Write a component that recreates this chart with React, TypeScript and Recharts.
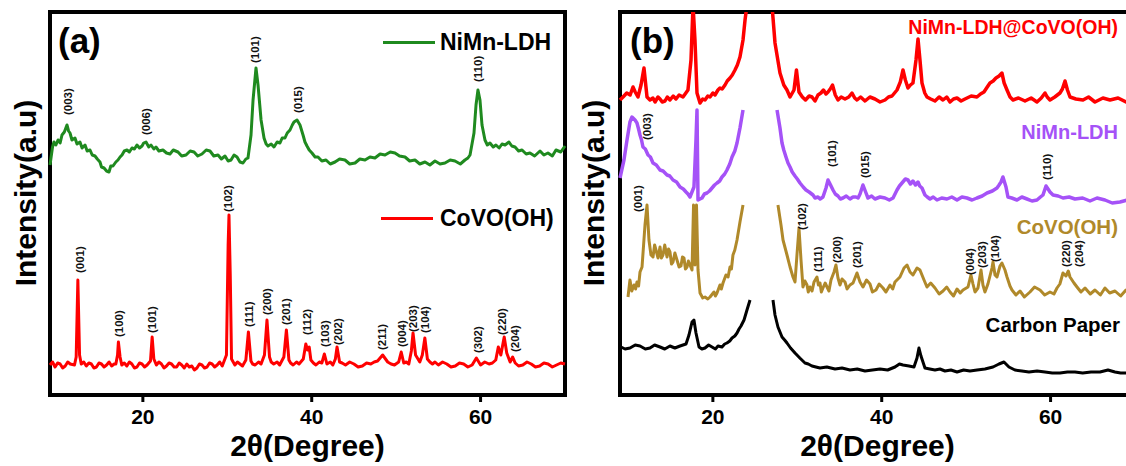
import { ComposedChart, Line, Scatter, XAxis, YAxis, ReferenceArea } from 'recharts';

const FONT = '"Liberation Sans", Arial, Helvetica, sans-serif';

const GREEN = '#1f8a1f';
const RED = '#ff0000';
const PURPLE = '#a552f7';
const GOLD = '#b0892a';
const BLACK = '#000000';

type Pt = [number, number | null];
type Hkl = [string, number, number];

// panel (a) — intensities in a.u.
const nimnA: Pt[] = [
  [9.0, 230], [9.3, 248], [9.47, 253], [9.7, 250], [9.95, 255], [10.2, 252], [10.42, 260], [10.7, 263],
  [11.01, 270], [11.2, 264], [11.37, 262], [11.6, 255], [11.96, 257], [12.2, 251], [12.55, 253],
  [12.8, 247], [13.15, 250], [13.4, 244], [13.74, 245], [14.0, 240], [14.33, 239], [14.6, 236],
  [14.92, 233], [15.1, 228], [15.4, 227], [15.7, 224], [15.99, 223], [16.2, 229], [16.46, 229],
  [16.8, 233], [17.05, 235], [17.3, 238], [17.53, 240], [17.8, 244], [18.12, 245], [18.4, 243],
  [18.71, 247], [19.0, 246], [19.3, 250], [19.6, 247], [19.9, 249], [20.1, 252], [20.37, 253],
  [20.7, 248], [20.96, 250], [21.3, 246], [21.55, 248], [21.9, 244], [22.38, 245], [22.8, 242],
  [23.21, 241], [23.6, 245], [24.16, 243], [24.6, 239], [25.11, 240], [25.6, 244], [26.06, 243],
  [26.5, 239], [27.0, 241], [27.5, 245], [27.95, 244], [28.4, 239], [28.9, 240], [29.3, 236],
  [29.73, 239], [30.1, 234], [30.44, 235], [30.8, 240], [31.15, 238], [31.5, 233], [31.86, 232],
  [32.2, 236], [32.45, 237], [32.81, 260], [33.05, 295], [33.4, 327], [33.64, 310], [34.0, 275],
  [34.35, 257], [34.6, 251], [34.82, 249], [35.2, 251], [35.53, 248], [35.9, 253], [36.24, 252],
  [36.5, 257], [36.83, 257], [37.1, 262], [37.43, 265], [37.7, 270], [37.9, 273], [38.26, 275],
  [38.61, 270], [38.97, 260], [39.2, 253], [39.44, 249], [39.7, 245], [40.03, 242], [40.4, 238],
  [40.74, 238], [41.2, 234], [41.69, 235], [42.2, 231], [42.76, 233], [43.3, 236], [43.94, 235],
  [44.5, 231], [45.13, 232], [45.7, 236], [46.31, 235], [46.9, 238], [47.49, 237], [48.1, 241],
  [48.68, 240], [49.3, 243], [49.86, 242], [50.4, 239], [51.05, 238], [51.6, 234], [52.23, 235],
  [52.8, 231], [53.42, 233], [54.0, 230], [54.6, 234], [55.2, 231], [55.78, 232], [56.4, 235],
  [56.97, 234], [57.6, 231], [58.15, 235], [58.5, 237], [58.75, 240], [59.22, 262], [59.46, 290],
  [59.69, 305], [59.93, 295], [60.17, 270], [60.52, 255], [60.8, 250], [61.11, 252], [61.5, 248],
  [61.82, 250], [62.2, 247], [62.54, 251], [62.9, 250], [63.36, 253], [63.7, 249], [64.08, 248],
  [64.5, 244], [64.91, 245], [65.4, 241], [65.85, 242], [66.4, 239], [67.04, 244], [67.5, 240],
  [67.98, 242], [68.5, 239], [68.93, 245], [69.5, 243], [70.0, 249],
];

const covoA: Pt[] = [
  [9.0, 30], [9.3, 33], [9.6, 28], [9.9, 32], [10.2, 31], [10.5, 27], [10.8, 29], [11.1, 33], [11.4, 31],
  [11.9, 30], [12.1, 38], [12.3, 115], [12.5, 40], [12.7, 31], [13.0, 33], [13.3, 29], [13.6, 32],
  [13.9, 31], [14.2, 27], [14.5, 28], [14.8, 32], [15.1, 31], [15.4, 28], [15.7, 30], [16.0, 33],
  [16.3, 29], [16.6, 31], [16.8, 31], [17.0, 40], [17.1, 53], [17.3, 38], [17.5, 30], [17.8, 32],
  [18.1, 29], [18.4, 33], [18.7, 31], [19.0, 27], [19.3, 28], [19.6, 32], [19.9, 31], [20.2, 28],
  [20.5, 30], [20.9, 34], [21.1, 58], [21.3, 36], [21.6, 30], [21.9, 33], [22.2, 31], [22.5, 27],
  [22.8, 29], [23.1, 32], [23.4, 31], [23.7, 28], [24.0, 28], [24.3, 32], [24.6, 30], [24.9, 27],
  [25.2, 31], [25.5, 28], [25.8, 29], [26.1, 25], [26.4, 27], [26.7, 31], [27.0, 30], [27.3, 27],
  [27.6, 28], [27.9, 32], [28.2, 31], [28.5, 28], [28.8, 30], [29.1, 33], [29.4, 29], [29.9, 40],
  [30.1, 150], [30.2, 180], [30.35, 120], [30.5, 36], [30.9, 30], [31.2, 33], [31.5, 31], [31.8, 29],
  [32.2, 35], [32.5, 63], [32.8, 34], [33.0, 31], [33.3, 30], [33.7, 33], [34.0, 31], [34.4, 40],
  [34.7, 75], [35.0, 38], [35.2, 33], [35.5, 31], [35.9, 33], [36.2, 30], [36.7, 38], [37.0, 65],
  [37.3, 35], [37.5, 32], [37.8, 30], [38.2, 33], [38.5, 31], [39.0, 36], [39.3, 51], [39.5, 45],
  [39.7, 48], [39.9, 35], [40.2, 32], [40.5, 30], [40.9, 33], [41.2, 32], [41.5, 41], [41.8, 31],
  [42.2, 33], [42.5, 30], [42.8, 36], [43.0, 48], [43.3, 33], [43.6, 32], [44.0, 30], [44.5, 33],
  [45.0, 31], [45.5, 28], [46.0, 29], [46.5, 32], [47.0, 31], [47.4, 33], [47.8, 34], [48.4, 40],
  [49.0, 33], [49.4, 31], [49.8, 30], [50.3, 33], [50.6, 43], [50.9, 32], [51.2, 33], [51.5, 31],
  [51.8, 44], [52.0, 62], [52.3, 40], [52.8, 33], [53.1, 40], [53.4, 57], [53.7, 36], [54.0, 33],
  [54.3, 31], [54.6, 33], [55.0, 30], [55.5, 33], [56.0, 31], [56.5, 28], [57.0, 29], [57.5, 32],
  [58.0, 31], [58.5, 28], [59.0, 30], [59.5, 37], [60.0, 30], [60.5, 33], [61.0, 31], [61.4, 32],
  [61.8, 35], [62.1, 48], [62.4, 40], [62.8, 58], [63.1, 42], [63.5, 33], [63.8, 38], [64.1, 32],
  [64.5, 29], [65.0, 30], [65.5, 33], [66.0, 31], [66.5, 28], [67.0, 29], [67.5, 32], [68.0, 31],
  [68.5, 28], [69.0, 30], [69.5, 32], [70.0, 31],
];

const nimnPeaksA: Hkl[] = [
  ['(003)', 11.19, 280], ['(006)', 20.37, 260], ['(101)', 33.34, 332], ['(015)', 38.37, 282], ['(110)', 59.69, 313],
];

const covoPeaksA: Hkl[] = [
  ['(001)', 12.55, 122], ['(100)', 17.17, 58], ['(101)', 21.08, 62], ['(102)', 30.08, 183],
  ['(111)', 32.57, 68], ['(200)', 34.7, 80], ['(201)', 36.95, 70], ['(112)', 39.44, 60],
  ['(103)', 41.57, 48], ['(202)', 43.11, 50], ['(211)', 48.32, 45], ['(004)', 50.69, 48],
  ['(203)', 51.99, 63], ['(104)', 53.42, 62], ['(302)', 59.69, 42], ['(220)', 62.54, 60], ['(204)', 64.08, 43],
];

// panel (b)
const compositeB: Pt[] = [
  [9.0, 295], [9.36, 298], [9.8, 302], [10.2, 300], [10.54, 308], [10.8, 303], [11.13, 298], [11.49, 310],
  [11.84, 327], [12.2, 298], [12.55, 295], [12.9, 297], [13.15, 293], [13.5, 298], [13.74, 296],
  [14.0, 293], [14.33, 294], [14.6, 298], [14.92, 295], [15.3, 299], [15.63, 296], [16.0, 300],
  [16.46, 298], [16.8, 302], [17.05, 305], [17.41, 335], [17.65, 390], [17.88, 355], [18.12, 302],
  [18.48, 292], [18.8, 296], [19.07, 295], [19.4, 299], [19.66, 298], [20.0, 302], [20.25, 300],
  [20.6, 305], [20.84, 307], [21.1, 306], [21.44, 310], [21.7, 314], [22.03, 317], [22.3, 320],
  [22.62, 325], [22.9, 330], [23.21, 338], [23.57, 355], [23.81, 375], [24.04, 390], [25.5, 500],
  [27.0, 390], [27.36, 352], [27.95, 322], [28.4, 310], [28.78, 305], [29.14, 298], [29.61, 305],
  [29.9, 325], [30.2, 303], [30.6, 298], [30.97, 295], [31.4, 299], [31.74, 298], [32.1, 294],
  [32.45, 300], [32.8, 302], [33.1, 305], [33.4, 301], [33.64, 303], [33.9, 306], [34.17, 310],
  [34.5, 300], [34.82, 295], [35.2, 298], [35.65, 296], [36.1, 298], [36.48, 302], [36.8, 297],
  [37.07, 295], [37.5, 298], [38.02, 294], [38.6, 298], [39.2, 296], [39.8, 293], [40.39, 295],
  [40.8, 298], [41.22, 299], [41.81, 305], [42.2, 313], [42.52, 325], [42.8, 315], [43.11, 307],
  [43.4, 310], [43.7, 312], [44.06, 335], [44.3, 356], [44.53, 335], [44.77, 312], [45.1, 302],
  [45.36, 298], [45.8, 296], [46.31, 294], [46.8, 298], [47.26, 295], [47.7, 298], [48.09, 293],
  [48.5, 296], [48.92, 297], [49.4, 294], [49.86, 296], [50.6, 299], [51.28, 298], [51.7, 301],
  [52.11, 303], [52.5, 308], [52.82, 312], [53.2, 314], [53.53, 317], [53.9, 319], [54.24, 322],
  [54.5, 312], [54.84, 305], [55.2, 298], [55.55, 295], [56.2, 297], [56.97, 294], [57.7, 297],
  [58.39, 293], [58.9, 297], [59.34, 302], [59.6, 298], [59.93, 295], [60.5, 298], [61.11, 302],
  [61.4, 306], [61.71, 314], [62.0, 305], [62.3, 298], [63.0, 296], [63.84, 295], [64.5, 298],
  [65.26, 293], [66.2, 297], [67.04, 295], [68.0, 297], [68.93, 293], [69.5, 296], [70.0, 294],
];

const nimnB: Pt[] = [
  [9.0, 217], [9.47, 235], [9.83, 255], [10.18, 273], [10.42, 278], [10.78, 275], [11.01, 272],
  [11.2, 266], [11.37, 260], [11.55, 255], [11.72, 248], [12.0, 246], [12.32, 240], [12.6, 238],
  [12.91, 232], [13.3, 230], [13.74, 225], [14.1, 224], [14.57, 220], [14.9, 219], [15.28, 215],
  [15.7, 213], [16.11, 208], [16.5, 206], [16.82, 203], [17.05, 201], [17.29, 198], [17.76, 208],
  [18.0, 255], [18.12, 285], [18.24, 195], [18.71, 197], [19.0, 201], [19.3, 202], [19.6, 204],
  [19.9, 207], [20.2, 210], [20.49, 212], [20.8, 214], [21.08, 218], [21.4, 221], [21.67, 225],
  [22.0, 231], [22.27, 238], [22.6, 244], [22.86, 252], [23.21, 267], [23.57, 285], [25.5, null],
  [27.6, 285], [27.95, 267], [28.19, 252], [28.4, 245], [28.66, 238], [28.9, 232], [29.14, 228],
  [29.4, 223], [29.73, 219], [30.0, 216], [30.32, 212], [30.7, 208], [31.03, 205], [31.4, 203],
  [31.86, 200], [32.1, 197], [32.45, 198], [32.7, 196], [33.04, 198], [33.4, 207], [33.64, 215],
  [33.88, 211], [34.23, 205], [34.5, 201], [34.82, 199], [35.1, 196], [35.41, 197], [35.8, 199],
  [36.24, 196], [36.6, 198], [36.95, 198], [37.2, 197], [37.43, 201], [37.78, 210], [38.14, 202],
  [38.37, 197], [38.8, 199], [39.2, 196], [39.8, 198], [40.39, 197], [40.9, 195], [41.34, 197],
  [41.81, 205], [42.1, 209], [42.4, 212], [42.8, 216], [43.11, 215], [43.4, 211], [43.7, 214],
  [44.0, 210], [44.3, 213], [44.5, 209], [44.77, 207], [45.12, 200], [45.4, 198], [45.72, 196],
  [46.1, 198], [46.55, 195], [47.1, 197], [47.73, 196], [48.3, 198], [48.92, 195], [49.5, 198],
  [50.1, 197], [50.7, 195], [51.28, 197], [51.9, 199], [52.47, 202], [53.1, 204], [53.65, 207],
  [53.9, 210], [54.13, 213], [54.36, 218], [54.72, 208], [54.95, 198], [55.4, 197], [56.02, 195],
  [56.6, 198], [57.21, 196], [57.8, 194], [58.39, 195], [58.8, 198], [59.1, 200], [59.46, 209],
  [59.7, 206], [59.93, 203], [60.29, 200], [60.9, 199], [61.47, 197], [62.2, 198], [62.89, 196],
  [63.8, 197], [64.67, 194], [65.5, 197], [66.44, 195], [67.3, 192], [68.22, 193], [69.1, 195],
  [70.0, 193],
];

const covoB: Pt[] = [
  [9.95, 98], [10.18, 115], [10.4, 104], [10.66, 110], [10.85, 106], [11.01, 113], [11.2, 109],
  [11.37, 123], [11.61, 128], [11.96, 170], [12.2, 190], [12.43, 155], [12.67, 140], [12.91, 138],
  [13.1, 150], [13.26, 145], [13.5, 137], [13.74, 148], [13.9, 137], [14.09, 140], [14.3, 150],
  [14.57, 138], [14.75, 146], [14.92, 143], [15.1, 131], [15.28, 133], [15.5, 142], [15.75, 135],
  [16.0, 128], [16.22, 129], [16.4, 138], [16.58, 137], [16.75, 126], [16.94, 128], [17.1, 134],
  [17.29, 130], [17.53, 125], [17.71, 190], [17.88, 130], [18.06, 190], [18.24, 125], [18.48, 102],
  [18.8, 97], [19.07, 98], [19.4, 96], [19.66, 98], [20.13, 103], [20.3, 99], [20.49, 102],
  [20.84, 110], [21.0, 106], [21.2, 112], [21.55, 120], [21.8, 118], [22.03, 128], [22.2, 126],
  [22.38, 140], [22.6, 145], [22.86, 155], [23.21, 173], [23.57, 190], [25.5, null], [27.71, 190],
  [28.07, 170], [28.31, 155], [28.78, 140], [29.14, 128], [29.49, 118], [29.73, 113], [29.96, 140],
  [30.2, 167], [30.44, 135], [30.67, 108], [30.9, 114], [31.15, 110], [31.3, 103], [31.5, 108],
  [31.75, 104], [31.98, 113], [32.33, 118], [32.5, 110], [32.69, 112], [32.85, 103], [33.04, 107],
  [33.3, 112], [33.52, 108], [33.75, 104], [33.99, 115], [34.35, 123], [34.58, 130], [34.82, 117],
  [35.06, 110], [35.3, 116], [35.65, 113], [35.9, 106], [36.24, 110], [36.6, 112], [37.07, 122],
  [37.43, 113], [37.78, 108], [38.2, 115], [38.61, 111], [38.9, 103], [39.32, 105], [39.7, 111],
  [40.15, 107], [40.5, 103], [40.98, 110], [41.3, 106], [41.57, 113], [42.16, 118], [42.64, 127],
  [43.0, 130], [43.35, 123], [43.7, 120], [44.18, 127], [44.53, 125], [45.01, 115], [45.36, 108],
  [45.8, 112], [46.31, 107], [46.8, 101], [47.26, 104], [47.7, 108], [48.09, 103], [48.5, 99],
  [48.92, 106], [49.3, 102], [49.63, 105], [50.22, 108], [50.57, 120], [50.81, 111], [51.05, 103],
  [51.4, 107], [51.76, 125], [51.99, 110], [52.23, 103], [52.58, 111], [53.06, 127], [53.18, 133],
  [53.42, 120], [53.65, 118], [54.01, 129], [54.24, 132], [54.6, 125], [54.84, 118], [55.19, 109],
  [55.43, 105], [55.9, 100], [56.38, 104], [56.9, 98], [57.56, 103], [58.1, 108], [58.75, 105],
  [59.3, 100], [59.93, 103], [60.4, 101], [60.76, 107], [61.1, 111], [61.47, 122], [61.82, 119],
  [62.1, 124], [62.3, 118], [62.77, 112], [63.13, 108], [63.6, 103], [64.08, 107], [64.7, 101],
  [65.26, 105], [65.9, 100], [66.44, 107], [67.0, 102], [67.63, 104], [68.3, 99], [68.93, 105],
  [69.5, 101], [70.0, 105],
];

const carbonB: Pt[] = [
  [9.12, 48], [9.6, 46], [10.18, 47], [10.8, 50], [11.37, 49], [12.0, 46], [12.55, 47], [13.1, 50],
  [13.74, 48], [14.3, 46], [14.92, 49], [15.5, 47], [16.11, 49], [16.82, 51], [17.17, 60],
  [17.53, 73], [17.76, 75], [18.0, 62], [18.36, 48], [18.7, 46], [19.07, 47], [19.5, 50], [19.9, 48],
  [20.3, 46], [20.61, 49], [21.08, 48], [21.4, 51], [21.67, 52], [22.0, 54], [22.27, 57],
  [22.6, 59], [22.86, 62], [23.1, 66], [23.33, 69], [23.69, 75], [24.04, 85], [24.4, 95], [25.7, null],
  [27.12, 95], [27.36, 80], [27.71, 68], [28.19, 58], [28.5, 55], [28.78, 52], [29.2, 47],
  [29.73, 42], [30.3, 37], [30.91, 32], [31.3, 31], [31.74, 29], [32.2, 28], [32.69, 27], [33.5, 28],
  [34.47, 26], [35.3, 27], [36.24, 25], [37.1, 26], [38.02, 24], [38.9, 25], [39.8, 26], [40.7, 25],
  [41.57, 28], [42.1, 31], [42.52, 30], [43.23, 29], [43.82, 28], [44.18, 37], [44.41, 47],
  [44.65, 39], [45.12, 27], [45.7, 26], [46.31, 25], [46.9, 26], [47.49, 24], [48.2, 25], [48.92, 23],
  [49.7, 25], [50.45, 24], [51.3, 25], [52.23, 26], [52.7, 27], [53.18, 28], [53.89, 31], [54.48, 33],
  [55.07, 28], [55.78, 25], [56.6, 24], [57.44, 23], [58.4, 24], [59.34, 23], [60.2, 22], [61.11, 22],
  [62.0, 23], [62.89, 23], [63.8, 22], [64.79, 23], [65.85, 23], [66.8, 25], [67.63, 23], [68.3, 22],
  [68.93, 22], [70.0, 22],
];

const nimnPeaksB: Hkl[] = [
  ['(003)', 12.2, 255], ['(101)', 34.11, 228], ['(015)', 38.02, 217], ['(110)', 59.57, 215],
];

const covoPeaksB: Hkl[] = [
  ['(001)', 11.13, 183], ['(102)', 30.56, 165], ['(111)', 32.45, 123], ['(200)', 34.7, 132],
  ['(201)', 37.07, 127], ['(004)', 50.45, 120], ['(203)', 51.88, 127], ['(104)', 53.42, 133],
  ['(220)', 61.82, 128], ['(204)', 63.36, 128],
];

const X_TICKS = [20, 40, 60];

const toRows = (pts: Pt[]) => pts.map(([x, y]) => ({ x, y }));
const toLabels = (hkls: Hkl[]) => hkls.map(([hkl, x, y]) => ({ x, y, hkl }));

const PeakLabel = (props: any) => {
  const { cx, cy, payload } = props;
  if (cx == null || cy == null) return <g />;
  return (
    <text
      x={cx} y={cy} transform={`rotate(-90 ${cx} ${cy})`}
      textAnchor="start" dominantBaseline="central"
      fontSize={11.5} fontWeight={700} fontFamily={FONT} fill="#111"
    >
      {payload?.hkl ?? props.hkl}
    </text>
  );
};

interface Series { name: string; pts: Pt[]; color: string; width: number }

function Panel({ left, series, peaks }: { left: number; series: Series[]; peaks: Hkl[][] }) {
  return (
    <div style={{ position: 'absolute', left, top: 0 }}>
      <ComposedChart width={580} height={466} margin={{ top: 12, right: 15, bottom: 31, left: 50 }}>
        <XAxis
          type="number" dataKey="x" domain={[9, 70]} ticks={X_TICKS} height={40}
          axisLine={false} tickLine={{ stroke: '#000', strokeWidth: 3 }} tickSize={7} tickMargin={7}
          tick={{ fill: '#000', fontSize: 21, fontWeight: 700, fontFamily: FONT }}
        />
        <YAxis type="number" dataKey="y" domain={[0, 383]} allowDataOverflow hide />
        {series.map(s => (
          <Line
            key={s.name} name={s.name} data={toRows(s.pts)} dataKey="y" type="linear"
            stroke={s.color} strokeWidth={s.width} strokeLinejoin="round" dot={false} activeDot={false}
            isAnimationActive={false}
          />
        ))}
        {peaks.map((p, i) => (
          <Scatter key={i} data={toLabels(p)} dataKey="y" shape={PeakLabel} isAnimationActive={false} />
        ))}
        <ReferenceArea x1={9} x2={70} y1={0} y2={383} fill="none" stroke="#000" strokeWidth={4} />
      </ComposedChart>
    </div>
  );
}

const txt = (extra: React.CSSProperties): React.CSSProperties => ({
  position: 'absolute', fontWeight: 700, lineHeight: 1, whiteSpace: 'nowrap', ...extra,
});

function AxisTitles({ plotCenter, yCenterX }: { plotCenter: number; yCenterX: number }) {
  return (
    <>
      <div style={txt({ left: plotCenter - 150, top: 434, width: 300, height: 24, lineHeight: '24px', textAlign: 'center', fontSize: 30, color: '#000' })}>
        2θ(Degree)
      </div>
      <div style={txt({ left: yCenterX - 150, top: 178, width: 300, height: 30, textAlign: 'center', fontSize: 30, color: '#000', transform: 'rotate(-90deg)' })}>
        Intensity(a.u)
      </div>
    </>
  );
}

export default function App() {
  return (
    <div style={{ position: 'fixed', left: 0, top: 0, width: 1126, height: 466, overflow: 'hidden', background: '#fff', fontFamily: FONT }}>
      <Panel
        left={0}
        series={[
          { name: 'NiMn-LDH', pts: nimnA, color: GREEN, width: 3 },
          { name: 'CoVO(OH)', pts: covoA, color: RED, width: 3 },
        ]}
        peaks={[nimnPeaksA, covoPeaksA]}
      />
      <Panel
        left={570}
        series={[
          { name: 'NiMn-LDH@CoVO(OH)', pts: compositeB, color: RED, width: 3.5 },
          { name: 'NiMn-LDH', pts: nimnB, color: PURPLE, width: 3.5 },
          { name: 'CoVO(OH)', pts: covoB, color: GOLD, width: 3 },
          { name: 'Carbon Paper', pts: carbonB, color: BLACK, width: 3 },
        ]}
        peaks={[nimnPeaksB, covoPeaksB]}
      />

      {/* panel (a) legend */}
      <div style={txt({ left: 58, top: 23, fontSize: 35 })}>(a)</div>
      <div style={{ position: 'absolute', left: 383, top: 41, width: 52, height: 3, background: GREEN }} />
      <div style={txt({ left: 440, top: 31, fontSize: 23, color: '#000' })}>NiMn-LDH</div>
      <div style={{ position: 'absolute', left: 381, top: 217, width: 52, height: 3, background: RED }} />
      <div style={txt({ left: 440, top: 207, fontSize: 23, color: '#000' })}>CoVO(OH)</div>

      {/* panel (b) series names */}
      <div style={txt({ left: 630, top: 23, fontSize: 35 })}>(b)</div>
      <div style={txt({ right: 8, top: 18, fontSize: 19.5, color: RED })}>NiMn-LDH@CoVO(OH)</div>
      <div style={txt({ right: 8, top: 122, fontSize: 20, color: PURPLE })}>NiMn-LDH</div>
      <div style={txt({ right: 8, top: 217, fontSize: 20.5, color: GOLD })}>CoVO(OH)</div>
      <div style={txt({ right: 6, top: 315, fontSize: 20.5, color: '#000' })}>Carbon Paper</div>

      <AxisTitles plotCenter={307.5} yCenterX={26} />
      <AxisTitles plotCenter={877.5} yCenterX={594} />
    </div>
  );
}
